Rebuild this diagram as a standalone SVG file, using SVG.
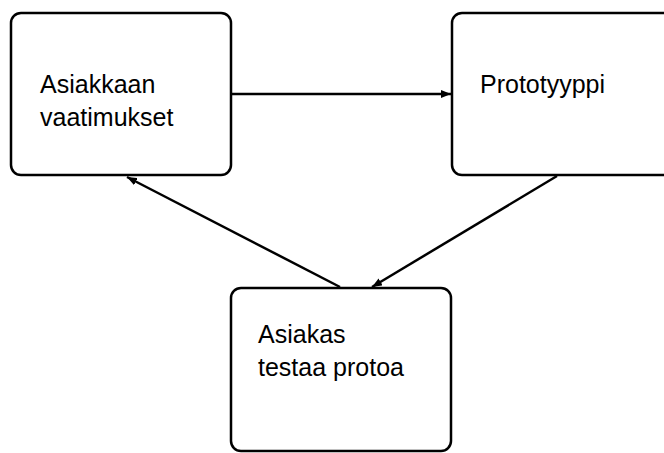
<svg xmlns="http://www.w3.org/2000/svg" width="664" height="453" viewBox="0 0 664 453">
  <defs>
    <marker id="arrow" viewBox="0 0 10 8" refX="10" refY="4" markerWidth="10" markerHeight="8" markerUnits="userSpaceOnUse" orient="auto">
      <path d="M0,0 L10,4 L0,8 Z" fill="#000"/>
    </marker>
  </defs>
  <style>
    .box { fill: #fff; stroke: #000; stroke-width: 2.5; }
    .label { font-family: "Liberation Sans", Arial, sans-serif; font-size: 25px; fill: #000; }
    .edge { stroke: #000; stroke-width: 2.5; fill: none; marker-end: url(#arrow); }
  </style>
  <rect width="664" height="453" fill="#fff"/>

  <g id="node-requirements">
    <rect class="box" x="11" y="13" width="220" height="162" rx="10"/>
    <text class="label" x="40" y="93">Asiakkaan</text>
    <text class="label" x="40" y="126">vaatimukset</text>
  </g>

  <g id="node-prototype">
    <rect class="box" x="452" y="13" width="222" height="162" rx="10"/>
    <text class="label" x="480" y="93">Prototyyppi</text>
  </g>

  <g id="node-testing">
    <rect class="box" x="231" y="288" width="220" height="163" rx="10"/>
    <text class="label" x="258" y="343">Asiakas</text>
    <text class="label" x="258" y="376">testaa protoa</text>
  </g>

  <g id="connectors">
    <line class="edge" x1="231" y1="94" x2="451" y2="94"/>
    <line class="edge" x1="557" y1="176" x2="372" y2="287"/>
    <line class="edge" x1="340" y1="287" x2="127" y2="177"/>
  </g>
</svg>
